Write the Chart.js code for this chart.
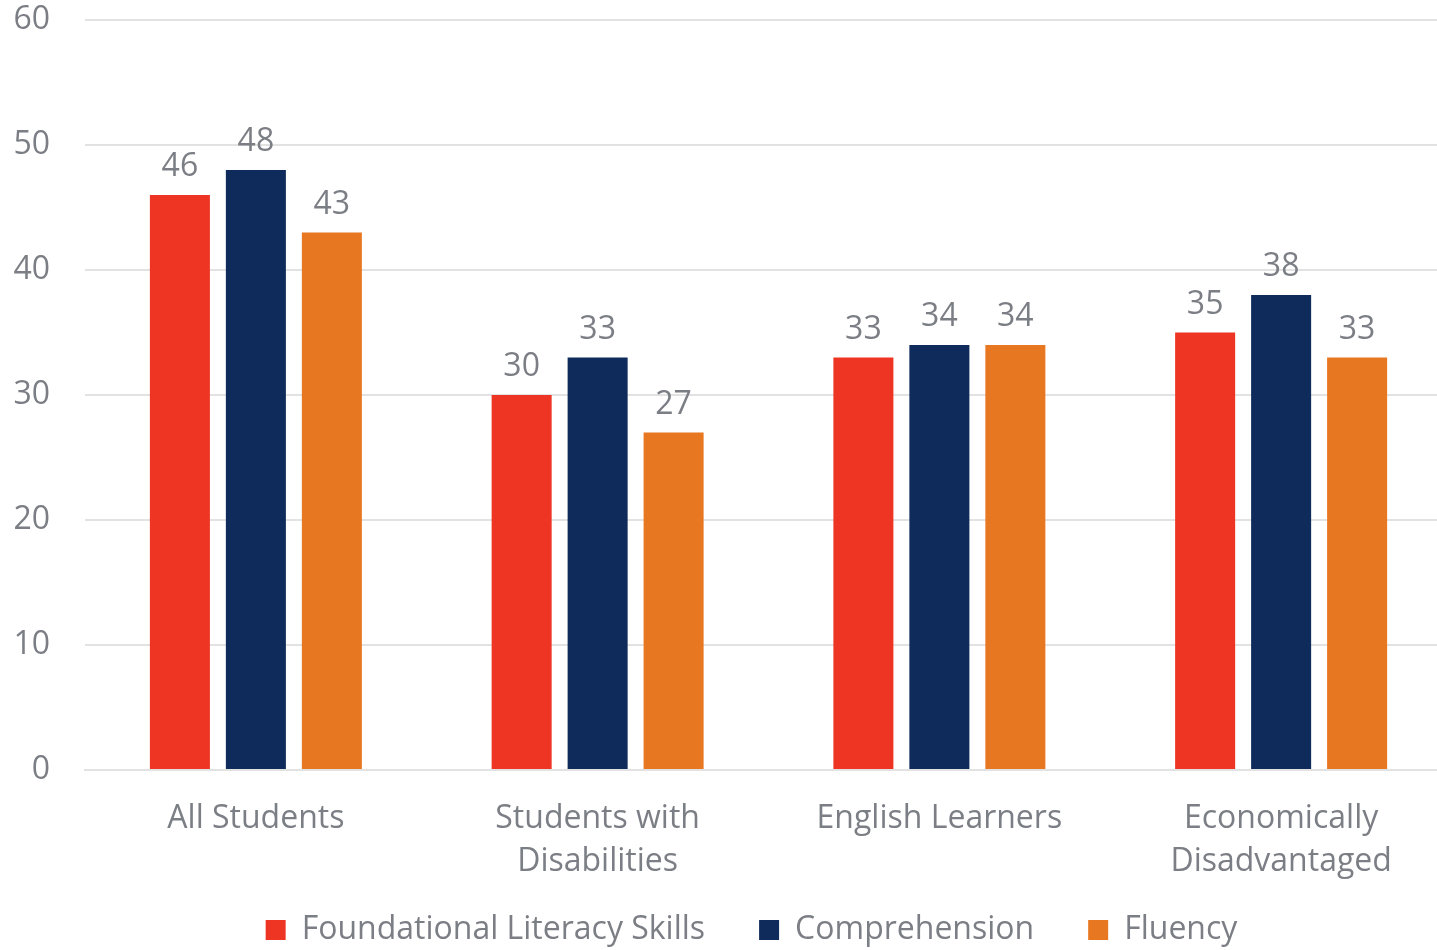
<!DOCTYPE html>
<html>
<head>
<meta charset="utf-8">
<script src="https://cdn.jsdelivr.net/npm/chart.js@4.4.0/dist/chart.umd.min.js"></script>
<style>
  html, body { margin: 0; padding: 0; background: #fff; }
  #wrap { width: 1437px; height: 950px; }
</style>
</head>
<body>
<div id="wrap"><canvas id="chart" width="1437" height="950"></canvas></div>
<script>
const categories = [
    "All Students",
    ["Students with", "Disabilities"],
    "English Learners",
    ["Economically", "Disadvantaged"]
];
const seriesNames = ["Foundational Literacy Skills", "Comprehension", "Fluency"];
const literacyValues = [46, 30, 33, 35];
const comprehensionValues = [48, 33, 34, 38];
const fluencyValues = [43, 27, 34, 33];
const yTicks = [0, 10, 20, 30, 40, 50, 60];

const textGray = "#7b7f85";
const gridGray = "#e2e2e2";
const fontFamily = "'Open Sans'";

// simple value labels above the bars
const barLabels = {
    id: "barLabels",
    afterDatasetsDraw(chart) {
        const ctx = chart.ctx
        ctx.save()
        ctx.font = "32px " + fontFamily
        ctx.fillStyle = textGray
        ctx.textAlign = "center"
        ctx.textBaseline = "alphabetic"
        chart.data.datasets.forEach((ds, i) => {
            chart.getDatasetMeta(i).data.forEach((bar, j) => {
                ctx.fillText(ds.data[j], bar.x, bar.y - 19)
            })
        })
        ctx.restore()
    }
}

// legend block height + small nudges after layout
const layoutTweaks = {
    id: "layoutTweaks",
    beforeInit(chart) {
        const fit = chart.legend.fit
        chart.legend.fit = function () {
            fit.bind(chart.legend)()
            this.height = 90
        }
    },
    afterLayout(chart) {
        chart.legend.left += 33
        chart.legend.right += 33
        const x = chart.scales.x
        // let the two-line category labels run below the axis box
        x.bottom = chart.height
        // the original plot runs a little past the right edge
        x.right += 15
        x.width += 15
        x.configure()
    }
}

new Chart(document.getElementById("chart"), {
    type: "bar",
    data: {
        labels: categories,
        datasets: [
            { label: seriesNames[0], data: literacyValues, backgroundColor: "#ee3524" },
            { label: seriesNames[1], data: comprehensionValues, backgroundColor: "#0f2b5b" },
            { label: seriesNames[2], data: fluencyValues, backgroundColor: "#e87722" }
        ]
    },
    options: {
        responsive: false,
        animation: false,
        categoryPercentage: 0.667,
        barPercentage: 0.79,
        layout: { padding: 0 },
        scales: {
            y: {
                min: 0,
                max: 60,
                afterBuildTicks: (axis) => { axis.ticks = yTicks.map(v => ({ value: v })) },
                afterFit: (axis) => {
                    axis.width = 85
                    axis.paddingTop = 20
                    axis.paddingBottom = 0
                },
                grid: { color: gridGray, lineWidth: 2, drawTicks: false },
                border: { display: false },
                ticks: {
                    color: textGray,
                    font: { family: fontFamily, size: 32 },
                    padding: 35
                }
            },
            x: {
                afterFit: (axis) => { axis.height = 90 },
                grid: { display: false, drawTicks: false },
                border: { display: true, color: gridGray, width: 2 },
                ticks: {
                    color: textGray,
                    font: { family: fontFamily, size: 32, lineHeight: 1.36 },
                    padding: 27,
                    maxRotation: 0
                }
            }
        },
        plugins: {
            legend: {
                position: "bottom",
                labels: {
                    color: textGray,
                    font: { family: fontFamily, size: 32 },
                    boxWidth: 20,
                    boxHeight: 20,
                    padding: 54
                }
            },
            tooltip: { enabled: false }
        }
    },
    plugins: [barLabels, layoutTweaks]
});
</script>
</body>
</html>
